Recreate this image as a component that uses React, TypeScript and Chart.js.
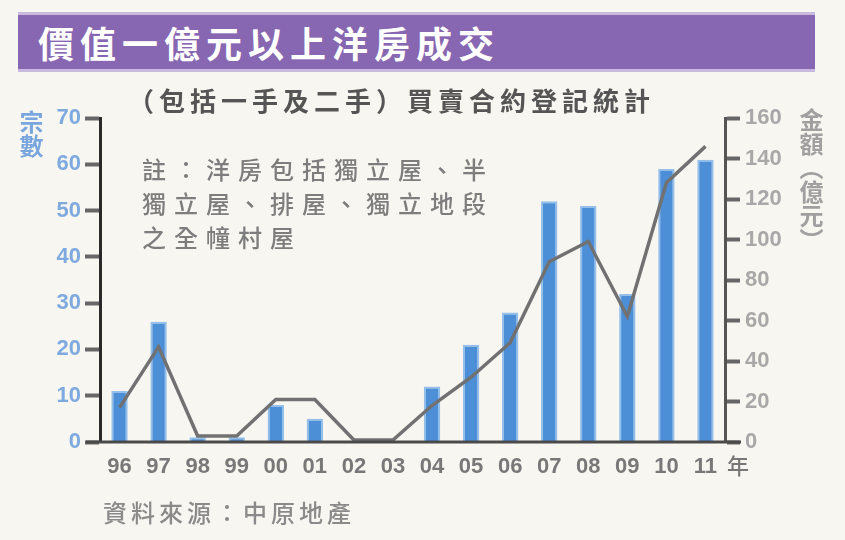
import React, { useEffect, useRef } from 'react';
import { Chart, registerables } from 'chart.js';

Chart.register(...registerables);

const years: string[] = ['96', '97', '98', '99', '00', '01', '02', '03', '04', '05', '06', '07', '08', '09', '10', '11'];
const dealCounts: number[] = [11, 26, 1, 1, 8, 5, 0, 0, 12, 21, 28, 52, 51, 32, 59, 61];
const dealAmounts: number[] = [17, 47, 3, 3, 21, 21, 1, 1, 18, 32, 49, 89, 99, 62, 128, 146];
const countTicks: number[] = [0, 10, 20, 30, 40, 50, 60, 70];
const amountTicks: number[] = [0, 20, 40, 60, 80, 100, 120, 140, 160];

const CJK = '"Noto Sans CJK TC", "Noto Sans CJK SC", sans-serif';
const NUM = '"Liberation Sans", Arial, sans-serif';

// x axis line runs a bit past both y axes
const axisLinePlugin = {
  id: 'axisLine',
  afterDraw(chart: any) {
    const { ctx, chartArea } = chart;
    ctx.save();
    ctx.strokeStyle = '#4a4a4a';
    ctx.lineWidth = 3;
    ctx.beginPath();
    ctx.moveTo(chartArea.left - 14, chartArea.bottom);
    ctx.lineTo(chartArea.right + 16, chartArea.bottom);
    ctx.stroke();
    ctx.restore();
  },
};

const App: React.FC = () => {
  const canvasRef = useRef<HTMLCanvasElement | null>(null);

  useEffect(() => {
    if (!canvasRef.current) return;
    const ctx = canvasRef.current.getContext('2d');
    if (!ctx) return;

    const chart = new Chart(ctx, {
      type: 'bar',
      data: {
        labels: years,
        datasets: [
          {
            type: 'line',
            label: '金額',
            data: dealAmounts,
            yAxisID: 'y1',
            borderColor: '#717171',
            borderWidth: 3.5,
            pointRadius: 0,
            tension: 0,
            order: 0,
          } as any,
          {
            type: 'bar',
            label: '宗數',
            data: dealCounts,
            yAxisID: 'y',
            backgroundColor: '#4c8fd6',
            borderColor: '#93bfea',
            borderWidth: 2,
            barPercentage: 0.42,
            categoryPercentage: 1,
            order: 1,
          },
        ],
      },
      options: {
        responsive: true,
        maintainAspectRatio: false,
        animation: false,
        layout: { padding: { top: 118, left: 0, right: 0, bottom: 0 } },
        plugins: {
          legend: { display: false },
          tooltip: { enabled: false },
        },
        scales: {
          x: {
            offset: true,
            grid: { display: false, drawTicks: false },
            border: { display: false },
            ticks: {
              color: '#787878',
              padding: 12,
              maxRotation: 0,
              autoSkip: false,
              font: { family: NUM, size: 22, weight: 'bold' },
            },
            afterFit: (scale: any) => { scale.height = 98; },
          },
          y: {
            position: 'left',
            min: 0,
            max: 70,
            afterBuildTicks: (scale: any) => { scale.ticks = countTicks.map(v => ({ value: v })); },
            grid: { drawOnChartArea: false, tickLength: 15, tickWidth: 4, tickColor: '#666666' },
            border: { color: '#2a2a2a', width: 3 },
            ticks: {
              color: '#7eaadf',
              padding: 4,
              font: { family: NUM, size: 22, weight: 'bold' },
            },
            afterFit: (scale: any) => { scale.width = 100; },
          },
          y1: {
            position: 'right',
            min: 0,
            max: 160,
            afterBuildTicks: (scale: any) => { scale.ticks = amountTicks.map(v => ({ value: v })); },
            grid: { drawOnChartArea: false, tickLength: 15, tickWidth: 4, tickColor: '#666666' },
            border: { color: '#555555', width: 3 },
            ticks: {
              color: '#a8a8a8',
              padding: 5,
              font: { family: NUM, size: 22, weight: 'bold' },
            },
            afterFit: (scale: any) => { scale.width = 120; },
          },
        },
      },
      plugins: [axisLinePlugin],
    });

    return () => {
      chart.destroy();
    };
  }, []);

  return (
    <div style={{ position: 'fixed', left: 0, top: 0, width: 845, height: 540, background: '#f8f6f1', overflow: 'hidden' }}>
      <canvas ref={canvasRef} style={{ position: 'absolute', left: 0, top: 0 }} />
      <div style={{
        position: 'absolute', left: 18, top: 12, width: 777, height: 54,
        background: '#8767b1', borderTop: '3px solid #c9b9de', borderBottom: '3px solid #c9b9de',
        color: '#fff', fontFamily: CJK, fontWeight: 700, fontSize: 36, letterSpacing: 6,
        lineHeight: '54px', paddingLeft: 20, boxSizing: 'content-box',
      }}>價值一億元以上洋房成交</div>
      <div style={{
        position: 'absolute', left: 128, top: 84, fontFamily: CJK, fontWeight: 700, fontSize: 26,
        letterSpacing: 5, color: '#555', lineHeight: '32px', whiteSpace: 'nowrap',
      }}>（包括一手及二手）買賣合約登記統計</div>
      <div style={{
        position: 'absolute', left: 142, top: 152, fontFamily: CJK, fontWeight: 500, fontSize: 24,
        letterSpacing: 8, color: '#7d7d7d', lineHeight: '34px', whiteSpace: 'pre',
      }}>{'註：洋房包括獨立屋、半\n獨立屋、排屋、獨立地段\n之全幢村屋'}</div>
      <div style={{
        position: 'absolute', left: 18, top: 110, fontFamily: CJK, fontWeight: 700, fontSize: 24,
        color: '#79a6de', writingMode: 'vertical-rl', lineHeight: '26px',
      }}>宗數</div>
      <div style={{
        position: 'absolute', left: 798, top: 108, fontFamily: CJK, fontWeight: 700, fontSize: 24,
        color: '#a0a0a0', writingMode: 'vertical-rl', lineHeight: '26px',
      }}>金額（億元）</div>
      <div style={{
        position: 'absolute', left: 727, top: 448, fontFamily: CJK, fontWeight: 500, fontSize: 22, color: '#777',
      }}>年</div>
      <div style={{
        position: 'absolute', left: 103, top: 496, fontFamily: CJK, fontWeight: 500, fontSize: 24,
        letterSpacing: 4, color: '#8a8a8a', lineHeight: '32px', whiteSpace: 'nowrap',
      }}>資料來源：中原地產</div>
    </div>
  );
};

export default App;
